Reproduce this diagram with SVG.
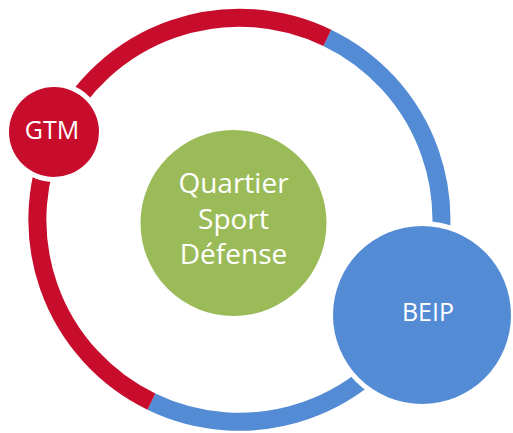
<svg xmlns="http://www.w3.org/2000/svg" width="513" height="433" viewBox="0 0 513 433">
<style>
.lbl{font-family:"Open Sans","Noto Sans",sans-serif;fill:#ffffff;text-anchor:middle}
.gap{fill:#ffffff}
</style>
<rect width="513" height="433" fill="#ffffff"/>
<g id="connectors" fill="none" stroke-width="18">
<path d="M327.3,37.8 A202,202 0 1 1 151.4,401.6" stroke="#538BD4"/>
<path d="M151.4,401.6 A202,202 0 0 1 327.3,37.8" stroke="#C80D2C"/>
</g>
<g id="center">
<circle cx="233.5" cy="223" r="93" fill="#9BBB59"/>
<text class="lbl" x="233.5" y="193" font-size="28">Quartier</text>
<text class="lbl" x="233.5" y="229" font-size="28">Sport</text>
<text class="lbl" x="233.5" y="264" font-size="28">Défense</text>
</g>
<g id="gtm">
<circle class="gap" cx="54" cy="132" r="50"/>
<circle cx="54" cy="132" r="45" fill="#C80D2C"/>
<text class="lbl" x="52" y="139" font-size="25">GTM</text>
</g>
<g id="beip">
<circle class="gap" cx="422" cy="315" r="94"/>
<circle cx="422" cy="315" r="89" fill="#538BD4"/>
<text class="lbl" x="428" y="321" font-size="25">BEIP</text>
</g>
</svg>
